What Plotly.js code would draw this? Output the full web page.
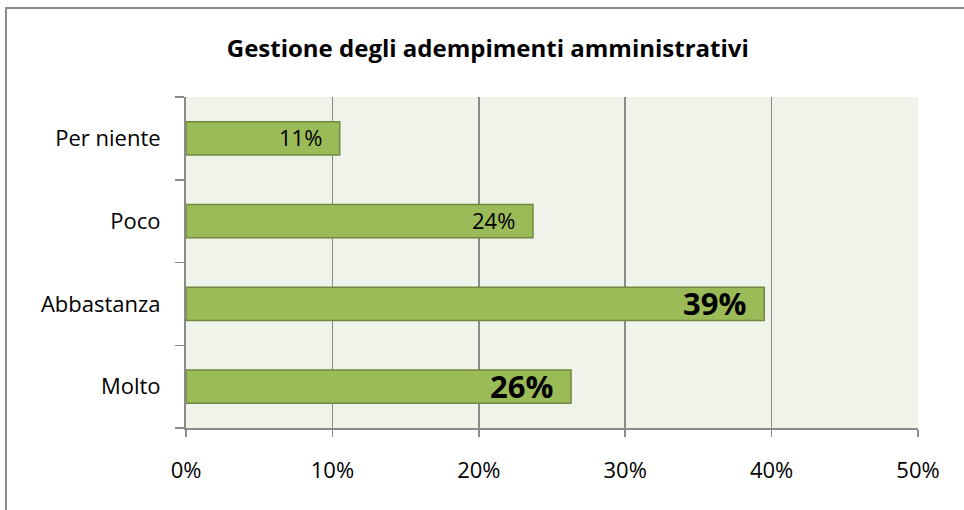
<!DOCTYPE html>
<html>
<head>
<meta charset="utf-8">
<script src="https://cdn.plot.ly/plotly-3.0.1.min.js"></script>
<style>
  html, body { margin: 0; padding: 0; background: #fff; }
  #wrap { position: relative; width: 964px; height: 510px; overflow: hidden; }
  #chart { position: absolute; left: 0; top: 0; width: 964px; height: 510px; }
  #frame { position: absolute; left: 5px; top: 7px; width: 980px; height: 520px;
           border-left: 2px solid #8c8c8c; border-top: 2px solid #8c8c8c; pointer-events: none; }
</style>
</head>
<body>
<div id="wrap">
  <div id="chart"></div>
  <div id="frame"></div>
</div>
<script>
const categories = ['Molto', 'Abbastanza', 'Poco', 'Per niente'];
const values = [26.3, 39.5, 23.7, 10.5];
const labels = ['26%', '39%', '24%', '11%'];
const bigLabel = [true, true, false, false];
const xTickVals = [0, 10, 20, 30, 40, 50];
const xTickText = ['0%', '10%', '20%', '30%', '40%', '50%'];

const FONT = '"Open Sans", Lato, sans-serif';

const trace = {
  type: 'bar',
  orientation: 'h',
  y: categories,
  x: values,
  marker: { color: '#9BBB59', line: { color: '#71893F', width: 1.5 } },
  hoverinfo: 'none'
};

const annotations = categories.map((c, i) => ({
  x: values[i], y: c, xref: 'x', yref: 'y',
  text: bigLabel[i] ? '<b>' + labels[i] + '</b>' : labels[i],
  showarrow: false, xanchor: 'right', yanchor: 'middle', xshift: -16, yshift: 1,
  font: { family: FONT, size: bigLabel[i] ? 31 : 22, color: '#000' }
}));

const layout = {
  width: 964, height: 510,
  margin: { l: 186, r: 46, t: 97, b: 82, pad: 0 },
  paper_bgcolor: '#ffffff',
  plot_bgcolor: '#EFF3EA',
  bargap: 0.6,
  showlegend: false,
  title: {
    text: '<b>Gestione degli adempimenti amministrativi</b>',
    font: { family: FONT, size: 24, color: '#000' },
    x: 0.506, xanchor: 'center', y: 0.905, yanchor: 'middle'
  },
  xaxis: {
    range: [0, 50], tickvals: xTickVals, ticktext: xTickText,
    showgrid: true, gridcolor: '#8a8a8a', gridwidth: 1.5,
    zeroline: false, showline: true, linecolor: '#8a8a8a', linewidth: 2,
    ticks: 'outside', ticklen: 7, tickcolor: '#8a8a8a', tickwidth: 1.5,
    ticklabelstandoff: 15,
    tickfont: { family: FONT, size: 22, color: '#000' },
    fixedrange: true
  },
  yaxis: {
    type: 'category', categoryorder: 'array', categoryarray: categories,
    showgrid: false, zeroline: false, showline: true, linecolor: '#8a8a8a', linewidth: 2,
    ticks: 'outside', tickson: 'boundaries', ticklen: 9, tickcolor: '#8a8a8a', tickwidth: 1.5,
    ticklabelstandoff: 19,
    tickfont: { family: FONT, size: 22, color: '#000' },
    fixedrange: true
  },
  annotations: annotations
};

Plotly.newPlot('chart', [trace], layout, { staticPlot: true, displayModeBar: false });
</script>
</body>
</html>
